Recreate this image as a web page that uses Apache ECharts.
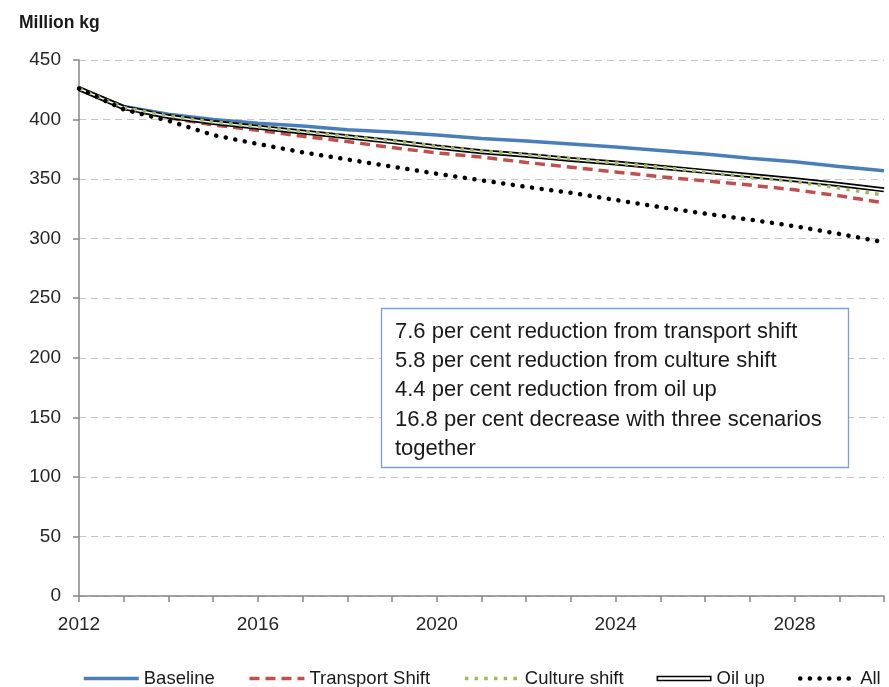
<!DOCTYPE html>
<html>
<head>
<meta charset="utf-8">
<script src="https://cdn.jsdelivr.net/npm/echarts@6/dist/echarts.min.js"></script>
<style>
html,body{margin:0;padding:0;background:#fff;}
#chart{width:889px;height:687px;}
</style>
</head>
<body>
<div id="chart"></div>
<script>
const years = ['2012','2013','2014','2015','2016','2017','2018','2019','2020','2021','2022','2023','2024','2025','2026','2027','2028','2029','2030'];
const baseline  = [426, 411, 404.5, 400, 397, 394.5, 391.5, 389.5, 387, 384, 382, 379.5, 377, 374, 371, 367.5, 364.5, 360.5, 357];
const transport = [426, 409.5, 401.5, 395.5, 391, 386, 381.5, 376.5, 372, 368.5, 364, 360, 356, 352, 348.5, 345, 341, 336, 330];
const culture   = [426, 410, 403, 398, 394, 390, 386, 382, 377.5, 373.5, 370.5, 367, 363.5, 360, 356, 352, 348, 342.5, 336.5];
const oilUp     = [426, 410, 402.5, 397.5, 393.5, 389.5, 385.5, 381.5, 377, 373, 370, 366.5, 363.5, 360, 356.5, 353, 349.5, 345.5, 341];
const allThree  = [426, 408.5, 399, 387, 379.5, 372.5, 366.5, 360.5, 354.5, 349, 343.5, 338.5, 332.5, 326.5, 321, 316, 310.5, 304, 297];
const noteLines = [
  '7.6 per cent reduction from transport shift',
  '5.8 per cent reduction from culture shift',
  '4.4 per cent reduction from oil up',
  '16.8 per cent decrease with three scenarios',
  'together'
];

const FONT = '"Liberation Sans", Arial, sans-serif';
const chart = echarts.init(document.getElementById('chart'), null, {renderer: 'canvas'});
chart.setOption({
  animation: false,
  backgroundColor: '#ffffff',
  textStyle: {fontFamily: FONT},
  title: [
    {text: 'Million kg', left: 14, top: 9,
     textStyle: {fontFamily: FONT, fontSize: 17.5, fontWeight: 'bold', color: '#1a1a1a'}},
    {text: noteLines.join('\n'), left: 381, top: 308,
     padding: [9, 9, 4, 14],
     borderColor: '#7f9fcf', borderWidth: 1.3, backgroundColor: '#ffffff',
     textStyle: {fontFamily: FONT, fontSize: 22, fontWeight: 'normal', color: '#1a1a1a', lineHeight: 29.3, width: 445}}
  ],
  grid: {left: 79, right: 5, top: 60, bottom: 91, containLabel: false},
  legend: {
    left: 82, top: 669, width: 807, padding: 0,
    itemWidth: 55, itemHeight: 14, itemGap: 33,
    symbolKeepAspect: true,
    textStyle: {fontFamily: FONT, fontSize: 18.5, color: '#1a1a1a'},
    itemStyle: {opacity: 0},
    lineStyle: {width: 'inherit'},
    data: [
      {name: 'Baseline'},
      {name: 'Transport Shift'},
      {name: 'Culture shift'},
      {name: 'Oil up', icon: 'path://M0,0H55V5.5H0Z M1.6,1.6V3.9H53.4V1.6Z', itemStyle: {color: '#000', opacity: 1}},
      {name: 'All'}
    ]
  },
  xAxis: {
    type: 'category', data: years, boundaryGap: false,
    axisLine: {lineStyle: {color: '#868686', width: 1.5}},
    axisTick: {show: true, alignWithLabel: true, interval: 0, length: 6, lineStyle: {color: '#868686', width: 1.5}},
    axisLabel: {interval: 3, margin: 19, fontSize: 19, color: '#262626', fontFamily: FONT},
    splitLine: {show: false}
  },
  yAxis: {
    type: 'value', min: 0, max: 450, interval: 50,
    axisLine: {show: true, lineStyle: {color: '#868686', width: 1.5}},
    axisTick: {show: true, length: 6, lineStyle: {color: '#868686', width: 1.5}},
    axisLabel: {margin: 18, fontSize: 19, color: '#262626', fontFamily: FONT},
    splitLine: {show: true, lineStyle: {color: '#c4c4c4', width: 1, type: [7, 5]}}
  },
  series: [
    {name: 'Baseline', type: 'line', data: baseline, symbol: 'none', z: 2,
     lineStyle: {color: '#4a7ebb', width: 3.5}, itemStyle: {color: '#4a7ebb'}},
    {name: 'Transport Shift', type: 'line', data: transport, symbol: 'none', z: 3,
     lineStyle: {color: '#c0504d', width: 3.5, type: [10, 6]}, itemStyle: {color: '#c0504d'}},
    {name: 'Oil up', type: 'line', data: oilUp, symbol: 'none', z: 4,
     lineStyle: {color: '#000000', width: 5}, itemStyle: {color: '#000000'}},
    {name: 'Oil up inner', type: 'line', data: oilUp, symbol: 'none', z: 5, silent: true,
     lineStyle: {color: '#ffffff', width: 1.6}, itemStyle: {color: '#ffffff'}},
    {name: 'Culture shift', type: 'line', data: culture, symbol: 'none', z: 6,
     lineStyle: {color: '#9bbb59', width: 3.5, type: [3.5, 6.2]}, itemStyle: {color: '#9bbb59'}},
    {name: 'All', type: 'line', data: allThree, symbol: 'none', z: 7,
     lineStyle: {color: '#000000', width: 4.5, type: [0.1, 9.6], cap: 'round'}, itemStyle: {color: '#000000'}}
  ]
});
</script>
</body>
</html>
